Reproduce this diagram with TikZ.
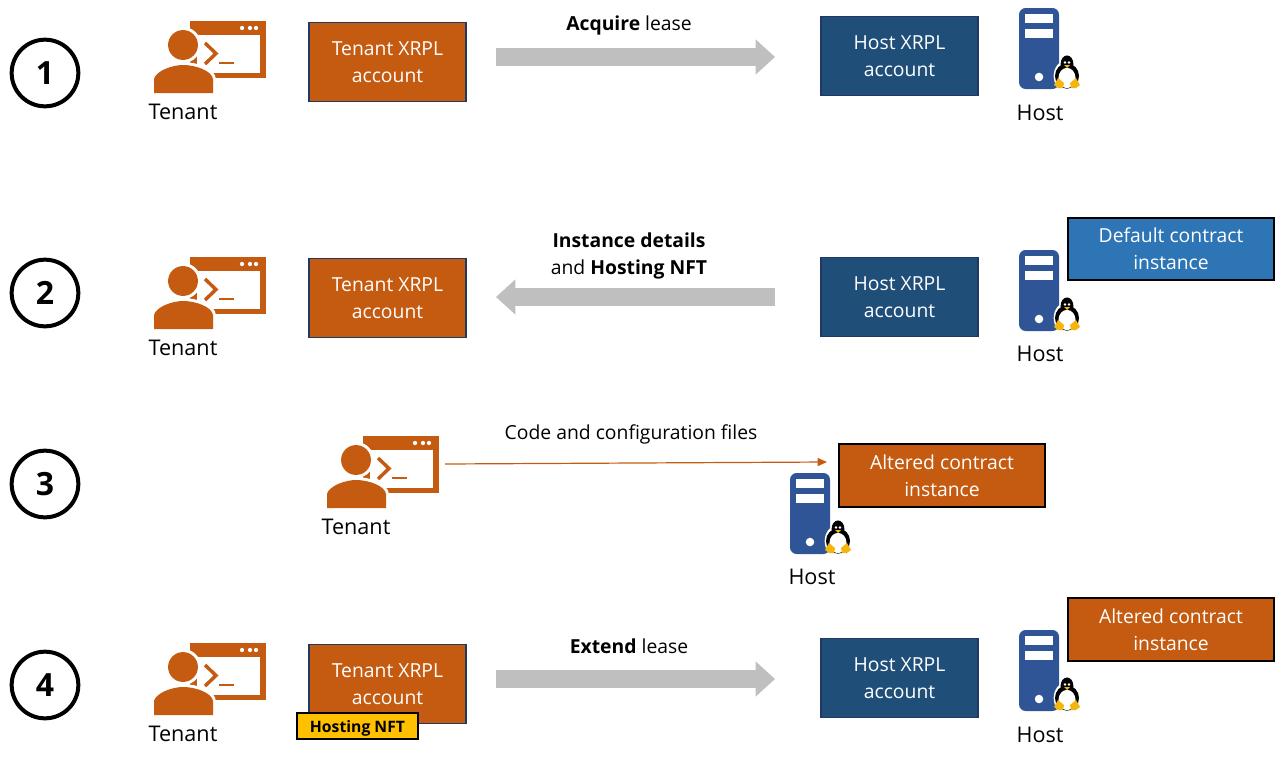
\documentclass[tikz,border=0pt]{standalone}
\usepackage{fontspec}
\setmainfont{Open Sans}
\usetikzlibrary{arrows.meta}
\definecolor{tenantorange}{HTML}{C55A11}
\definecolor{hostnavy}{HTML}{1F4E79}
\definecolor{edgenavy}{HTML}{203864}
\definecolor{serverblue}{HTML}{2F5597}
\definecolor{defaultblue}{HTML}{2E75B6}
\definecolor{nftyellow}{HTML}{FFC000}
\definecolor{leasegray}{HTML}{BFBFBF}
\definecolor{feetyellow}{HTML}{F5B50F}
\tikzset{
  acctbox/.style={draw=edgenavy, line width=1.1pt, minimum width=118pt, minimum height=59pt, inner sep=0pt, align=center, text=white, font=\fontsize{14.5}{20.3}\selectfont},
  tenantacct/.style={acctbox, fill=tenantorange},
  hostacct/.style={acctbox, fill=hostnavy},
  instbox/.style={draw=black, line width=1.4pt, minimum width=155pt, minimum height=47pt, inner sep=0pt, align=center, text=white, font=\fontsize{14.5}{20.3}\selectfont},
  stepmark/.style={draw=black, circle, line width=3pt, minimum size=50pt, inner sep=0pt, font=\fontsize{24}{24}\selectfont\bfseries},
  nftbox/.style={draw=black, fill=nftyellow, line width=1.4pt, minimum width=91pt, minimum height=19pt, inner sep=0pt, text height=10pt, text depth=0pt, font=\fontsize{11.8}{14}\selectfont\bfseries},
  rolelabel/.style={font=\fontsize{16.2}{20}\selectfont, inner sep=0pt},
  msglabel/.style={font=\fontsize{14.5}{20.3}\selectfont, inner sep=0pt, align=center},
  leasearrow/.style={line width=13.5pt, leasegray, -{Triangle[length=14.5pt,width=25.5pt]}},
  tenanticon/.pic={
    \fill[tenantorange] (36,0) rectangle (112,57);
    \fill[white] (43,14) rectangle (106,52);
    \foreach \dotx in {88,96,102} \fill[white] (\dotx,7) circle (1.6pt);
    \draw[tenantorange, line width=2.6pt] (51,22) -- (62,32.5) -- (51,43);
    \draw[tenantorange, line width=2.2pt] (65,42) -- (80,42);
    \fill[white] (29,24) circle (13.5pt);
    \fill[white] (-2,74) -- (-2,58) .. controls (0,47) and (18,41) .. (29,41) .. controls (42,41) and (61,47) .. (62,58) -- (62,74) -- cycle;
    \fill[tenantorange] (29,24) circle (11.2pt);
    \fill[tenantorange] (0,72) -- (0,58) .. controls (2,50) and (18,44) .. (29,44) .. controls (42,44) and (58,50) .. (59,58) -- (59,72) -- cycle;
  },
  hosticon/.pic={
    \fill[serverblue, rounded corners=5pt] (0,0) rectangle (40,81);
    \fill[white] (6,6) rectangle (34,15);
    \fill[white] (6,21) rectangle (34,30);
    \fill[white] (20,69) circle (3.2pt);
    \fill[white] (48,68) ellipse (10pt and 12pt);
    \fill[black] (48,56) ellipse (4.8pt and 6.4pt);
    \fill[black] (48,68) ellipse (9pt and 9.5pt);
    \fill[white] (48,70) ellipse (6.4pt and 7.6pt);
    \fill[white] (46,54.5) circle (1pt);
    \fill[white] (50,54.5) circle (1pt);
    \fill[feetyellow] (45,57) -- (51,57) -- (48,60) -- cycle;
    \fill[feetyellow] (35,77) -- (39,70) -- (45,75) -- (44,80) -- (39,80) -- cycle;
    \fill[feetyellow] (61,77) -- (57,70) -- (51,75) -- (52,80) -- (57,80) -- cycle;
  },
}
\begin{document}
\begin{tikzpicture}[x=0.75pt,y=-0.75pt]
\useasboundingbox (0,0) rectangle (1287,760);

\node[stepmark] (mark1) at (45,73) {1};
\node[stepmark] (mark2) at (45,293) {2};
\node[stepmark] (mark3) at (45,484) {3};
\node[stepmark] (mark4) at (45,685) {4};

\pic at (154,21) {tenanticon};
\node[rolelabel] (tenant1) at (183,111.5) {Tenant};
\node[tenantacct] (tacct1) at (387.5,62) {Tenant XRPL\\account};
\coordinate (lease1a) at (496,57);
\coordinate (lease1b) at (775,57);
\draw[leasearrow] (lease1a) -- (lease1b);
\node[msglabel] (msg1) at (629,25) {\textbf{Acquire} lease};
\node[hostacct] (hacct1) at (899.5,56) {Host XRPL\\account};
\pic at (1019,8) {hosticon};
\node[rolelabel] (host1) at (1040,112.5) {Host};

\pic at (154,257) {tenanticon};
\node[rolelabel] (tenant2) at (183,347.5) {Tenant};
\node[tenantacct] (tacct2) at (387.5,298) {Tenant XRPL\\account};
\coordinate (lease2a) at (775,297);
\coordinate (lease2b) at (496,297);
\draw[leasearrow] (lease2a) -- (lease2b);
\node[msglabel] (msg2) at (629,256) {\textbf{Instance details}\\and \textbf{Hosting NFT}};
\node[hostacct] (hacct2) at (899.5,297) {Host XRPL\\account};
\pic at (1019,250) {hosticon};
\node[rolelabel] (host2) at (1040,353.5) {Host};
\node[instbox, fill=defaultblue] (inst2) at (1171,249) {Default contract\\instance};

\pic at (327,436) {tenanticon};
\node[rolelabel] (tenant3) at (356,526.5) {Tenant};
\coordinate (code3a) at (445,464);
\coordinate (code3b) at (827,462);
\draw[tenantorange, line width=0.9pt, -{Triangle[length=7pt,width=6pt]}] (code3a) -- (code3b);
\node[msglabel] (msg3) at (631,434) {Code and configuration files};
\pic at (790,473) {hosticon};
\node[rolelabel] (host3) at (812,576.5) {Host};
\node[instbox, fill=tenantorange] (inst3) at (942,475.5) {Altered contract\\instance};

\pic at (154,643) {tenanticon};
\node[rolelabel] (tenant4) at (183,733.5) {Tenant};
\node[tenantacct] (tacct4) at (387.5,684) {Tenant XRPL\\account};
\node[nftbox] (nft4) at (357.5,726) {Hosting NFT};
\coordinate (lease4a) at (496,679);
\coordinate (lease4b) at (775,679);
\draw[leasearrow] (lease4a) -- (lease4b);
\node[msglabel] (msg4) at (629,646) {\textbf{Extend} lease};
\node[hostacct] (hacct4) at (899.5,678) {Host XRPL\\account};
\pic at (1019,630) {hosticon};
\node[rolelabel] (host4) at (1040,734.5) {Host};
\node[instbox, fill=tenantorange] (inst4) at (1171,629.5) {Altered contract\\instance};
\end{tikzpicture}
\end{document}
